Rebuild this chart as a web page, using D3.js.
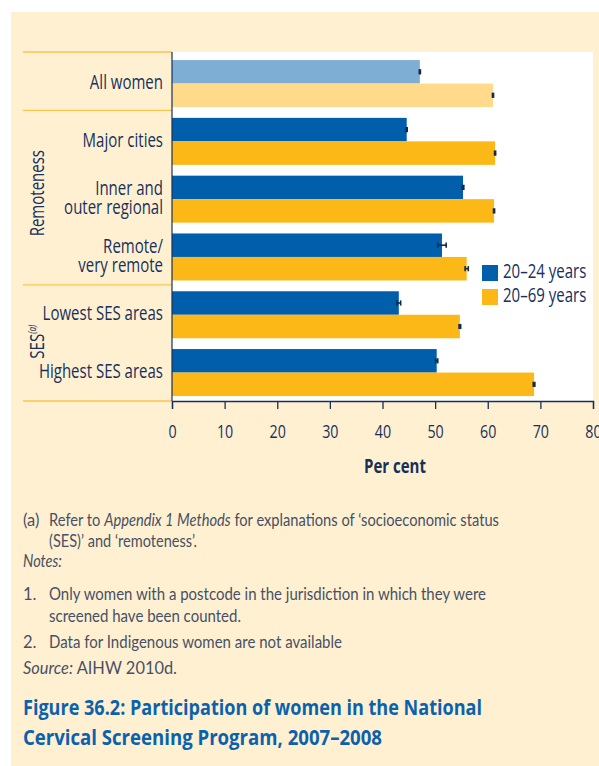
<!DOCTYPE html>
<html>
<head>
<meta charset="utf-8">
<script src="https://cdn.jsdelivr.net/npm/d3@7"></script>
<style>
  html, body { margin: 0; padding: 0; background: #ffffff; }
  svg { display: block; }
</style>
</head>
<body>
<svg id="chart" width="599" height="766"></svg>
<script>
// Participation in the National Cervical Screening Program, 2007–2008 (per cent)
const categories = ["All women", "Major cities", "Inner and\nouter regional", "Remote/\nvery remote", "Lowest SES areas", "Highest SES areas"];
const seriesNames = ["20–24 years", "20–69 years"];
const age2024 = [47.1, 44.6, 55.3, 51.3, 43.1, 50.3];
const age2069 = [61.0, 61.4, 61.2, 56.0, 54.7, 68.8];
const err2024 = [0.1, 0.1, 0.15, 0.8, 0.35, 0.2];
const err2069 = [0.1, 0.1, 0.1, 0.3, 0.15, 0.15];
const xTicks = [0, 10, 20, 30, 40, 50, 60, 70, 80];
const groupNames = [
  { name: "Remoteness", sup: "", from: 1, to: 3 },
  { name: "SES", sup: "(a)", from: 4, to: 5 }
];
const footnote = ["(a)", "Refer to ", "Appendix 1 Methods", " for explanations of ‘socioeconomic status", "(SES)’ and ‘remoteness’."];
const notes = [
  ["1.", "Only women with a postcode in the jurisdiction in which they were", "screened have been counted."],
  ["2.", "Data for Indigenous women are not available"]
];
const source = "AIHW 2010d.";
const titleLines = ["Figure 36.2: Participation of women in the National", "Cervical Screening Program, 2007–2008"];

const C = {
  panel: "#fff0d2",
  blue: "#005eaa",
  orange: "#fbb817",
  lightBlue: "#7faed4",
  lightOrange: "#feda8a",
  rule: "#fbc54c",
  navy: "#16305b",
  err: "#13294b",
  note: "#475064",
  title: "#0a62ad"
};
// chart labels use a humanist face squeezed horizontally into a condensed shape
const labelFont = "'Open Sans', 'Noto Sans', sans-serif";
const SQ = 0.77;

const svg = d3.select("#chart");

function ctext(parent, px, py, str, opts = {}) {
  const rot = opts.rotate ? ` rotate(${opts.rotate})` : "";
  return parent.append("text")
    .attr("transform", `translate(${px},${py})${rot} scale(${SQ},1)`)
    .attr("text-anchor", opts.anchor || "start")
    .attr("font-family", labelFont)
    .attr("font-size", opts.size || 19)
    .attr("font-weight", opts.bold ? "bold" : 500)
    .attr("fill", C.navy)
    .text(str);
}

// background panel
svg.append("rect").attr("x", 11).attr("y", 12).attr("width", 599 - 11).attr("height", 766 - 12).attr("fill", C.panel);

const plot = { left: 172, right: 593, top: 52, bottom: 401 };
svg.append("rect").attr("x", plot.left).attr("y", plot.top)
  .attr("width", plot.right - plot.left).attr("height", plot.bottom - plot.top).attr("fill", "#ffffff");

const x = d3.scaleLinear().domain([0, 80]).range([plot.left, plot.right]);
const y = d3.scaleBand().domain(d3.range(categories.length))
  .range([plot.top, plot.bottom]).paddingInner(0.187).paddingOuter(0.1125).align(0.62);
const half = y.bandwidth() / 2;

const rows = categories.map((c, i) => ({
  i, label: c,
  bars: [
    { s: 0, v: age2024[i], e: err2024[i], fill: i === 0 ? C.lightBlue : C.blue },
    { s: 1, v: age2069[i], e: err2069[i], fill: i === 0 ? C.lightOrange : C.orange }
  ]
}));

// bars
const g = svg.append("g");
const rowG = g.selectAll("g.row").data(rows).join("g").attr("class", "row")
  .attr("transform", d => `translate(0,${y(d.i)})`);
rowG.selectAll("rect").data(d => d.bars).join("rect")
  .attr("x", x(0)).attr("y", d => d.s * half)
  .attr("width", d => x(d.v) - x(0)).attr("height", half)
  .attr("fill", d => d.fill);

// error bars
const eb = rowG.selectAll("g.err").data(d => d.bars).join("g").attr("class", "err")
  .attr("stroke", C.err).attr("stroke-width", 1.6).attr("fill", "none");
eb.append("line")
  .attr("x1", d => x(d.v - d.e)).attr("x2", d => x(d.v + d.e))
  .attr("y1", d => d.s * half + half / 2).attr("y2", d => d.s * half + half / 2);
eb.append("line")
  .attr("x1", d => x(d.v - d.e)).attr("x2", d => x(d.v - d.e))
  .attr("y1", d => d.s * half + half / 2 - 2.6).attr("y2", d => d.s * half + half / 2 + 2.6);
eb.append("line")
  .attr("x1", d => x(d.v + d.e)).attr("x2", d => x(d.v + d.e))
  .attr("y1", d => d.s * half + half / 2 - 2.6).attr("y2", d => d.s * half + half / 2 + 2.6);

// separators between category groups on the label side
const bounds = [plot.top, (y(0) + y.bandwidth() + y(1)) / 2 - 2, (y(3) + y.bandwidth() + y(4)) / 2 - 1, plot.bottom];
svg.append("g").selectAll("line").data(bounds).join("line")
  .attr("x1", 23).attr("x2", plot.left).attr("y1", d => d).attr("y2", d => d)
  .attr("stroke", C.rule).attr("stroke-width", 1.3);

// y axis line
svg.append("line").attr("x1", plot.left).attr("x2", plot.left)
  .attr("y1", plot.top).attr("y2", plot.bottom).attr("stroke", C.navy).attr("stroke-width", 1.2);

// x axis
const xAxis = svg.append("g").attr("transform", `translate(0,${plot.bottom})`)
  .call(d3.axisBottom(x).tickValues(xTicks).tickSize(8).tickFormat(d3.format("d")));
xAxis.select(".domain").attr("stroke", C.navy).attr("stroke-width", 1.3);
xAxis.selectAll(".tick line").attr("stroke", C.navy).attr("stroke-width", 1.3);
xAxis.selectAll(".tick text").remove();
xAxis.selectAll(".tick").each(function (d) {
  ctext(d3.select(this), 0, 37, String(d), { anchor: "middle", size: 18.5 });
});

ctext(svg, 395, 473, "Per cent", { anchor: "middle", size: 19.5, bold: true });

// category labels
const labG = svg.append("g");
rows.forEach(r => {
  const lines = r.label.split("\n");
  const cy = y(r.i) + y.bandwidth() / 2;
  const lh = 18.6;
  lines.forEach((ln, k) => {
    ctext(labG, 163, cy + (k - (lines.length - 1) / 2) * lh + 5.5, ln, { anchor: "end", size: 19.5 });
  });
});

// rotated group labels
groupNames.forEach(gr => {
  const cy = (y(gr.from) + y(gr.to) + y.bandwidth()) / 2 - (gr.sup ? 2 : 6);
  const t = ctext(svg, 44, cy, "", { anchor: "middle", rotate: -90, size: 19.5 });
  t.append("tspan").text(gr.name);
  if (gr.sup) t.append("tspan").attr("dy", -8).attr("font-size", 10.5).attr("font-style", "italic").text(gr.sup);
});

// legend
const leg = svg.append("g").attr("transform", "translate(482,265)");
const legColors = [C.blue, C.orange];
seriesNames.forEach((s, k) => {
  leg.append("rect").attr("x", 0).attr("y", k * 24).attr("width", 16).attr("height", 16).attr("fill", legColors[k]);
  ctext(leg, 21, k * 24 + 13, s, { size: 19.5 });
});

// notes
const noteFont = "Lato, 'Open Sans', sans-serif";
const nt = svg.append("g").attr("font-family", noteFont).attr("font-size", 16.5).attr("fill", C.note);
function noteLine(xp, yp, parts) {
  const t = nt.append("text").attr("x", xp).attr("y", yp);
  parts.forEach(p => t.append("tspan").attr("font-style", p.it ? "italic" : null).text(p.s));
  return t;
}
function fit(t, w) {
  const n = t.node().getComputedTextLength();
  if (n > w) t.attr("textLength", w).attr("lengthAdjust", "spacingAndGlyphs");
}
noteLine(23, 526, [{ s: footnote[0] }]);
fit(noteLine(49, 526, [{ s: footnote[1] }, { s: footnote[2], it: true }, { s: footnote[3] }]), 450);
fit(noteLine(49, 547, [{ s: footnote[4] }]), 148);
fit(noteLine(23, 567, [{ s: "Notes:", it: true }]), 39);
noteLine(23, 600, [{ s: notes[0][0] }]);
fit(noteLine(49, 600, [{ s: notes[0][1] }]), 437);
fit(noteLine(49, 622, [{ s: notes[0][2] }]), 192);
noteLine(23, 648, [{ s: notes[1][0] }]);
fit(noteLine(49, 648, [{ s: notes[1][1] }]), 293);
fit(noteLine(23, 674, [{ s: "Source:", it: true }, { s: " " + source }]), 154);

// figure title
const tt = svg.append("g").attr("font-family", "'Open Sans', 'Noto Sans', sans-serif")
  .attr("font-weight", "bold").attr("font-size", 22).attr("fill", C.title);
const tw = [459, 359];
titleLines.forEach((s, k) => {
  const t = tt.append("text").attr("x", 23).attr("y", 715 + k * 30).text(s);
  fit(t, tw[k]);
});
</script>
</body>
</html>
